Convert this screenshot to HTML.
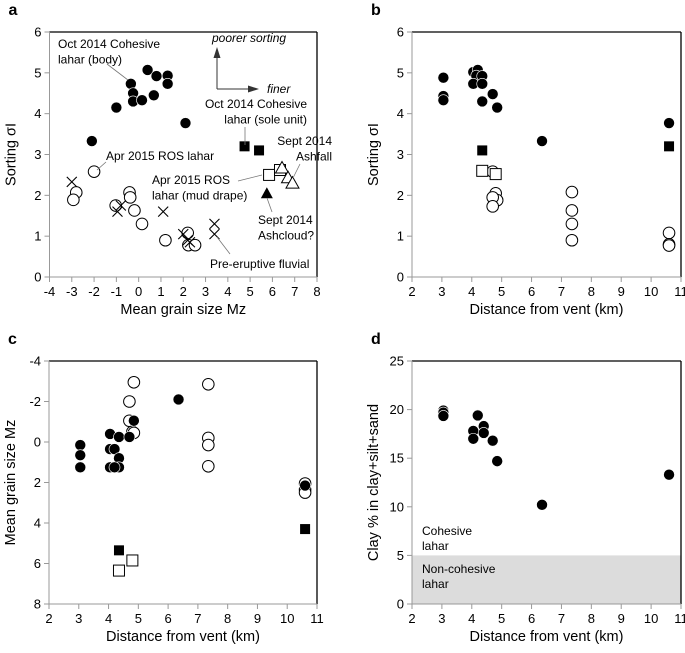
<!DOCTYPE html>
<html><head><meta charset="utf-8">
<style>
body{margin:0;background:#fff}
svg{display:block;font-family:"Liberation Sans",Arial,sans-serif}
</style></head>
<body>
<svg id="fig" width="685" height="653" viewBox="0 0 685 653" xmlns="http://www.w3.org/2000/svg">
<g id="layer"></g>
</svg>
<script>
// ---- Panel a data: mean grain size (x) vs sorting (y)
const aBodyX = [-2.1,-1.0,-0.35,-0.25,-0.25,0.15,0.4,0.8,0.68,1.3,1.3,2.1];
const aBodyY = [3.33,4.15,4.73,4.5,4.3,4.33,5.07,4.92,4.45,4.93,4.73,3.77];
const aSoleX = [4.75,5.4];
const aSoleY = [3.2,3.1];
const aCloudX = [5.75];
const aCloudY = [2.05];
const aDrapeX = [5.85,6.34];
const aDrapeY = [2.5,2.62];
const aFallX = [6.43,6.7,6.9];
const aFallY = [2.67,2.43,2.3];
const aRosX = [-2.0,-2.8,-2.93,-1.03,-0.41,-0.38,-0.19,0.15,1.2,2.2,2.23,2.53];
const aRosY = [2.58,2.07,1.89,1.75,2.07,1.95,1.63,1.3,0.9,1.08,0.78,0.78];
const aFluvX = [-3.0,-0.8,-0.95,1.1,2.0,2.2,2.3,3.4,3.4];
const aFluvY = [2.33,1.75,1.6,1.6,1.05,0.9,0.85,1.3,1.05];
// ---- Panel b: distance vs sorting
const bBodyX = [3.05,3.05,3.05,4.05,4.2,4.15,4.35,4.05,4.35,4.35,4.7,4.85,6.35,10.6];
const bBodyY = [4.88,4.43,4.33,5.02,5.07,4.93,4.92,4.73,4.73,4.3,4.48,4.15,3.33,3.77];
const bSoleX = [4.35,10.6];
const bSoleY = [3.1,3.2];
const bDrapeX = [4.35,4.8];
const bDrapeY = [2.6,2.52];
const bRosX = [4.7,4.8,4.85,4.7,4.7,7.35,7.35,7.35,7.35,10.6,10.6,10.6];
const bRosY = [2.58,2.05,1.88,1.95,1.73,2.08,1.63,1.3,0.9,1.08,0.8,0.77];
// ---- Panel c: distance vs mean grain size
const cBodyX = [3.05,3.05,3.05,4.05,4.05,4.2,4.35,4.35,4.35,4.05,4.2,4.7,4.85,6.35,10.6];
const cBodyY = [0.15,0.65,1.25,-0.4,0.35,0.35,-0.25,0.8,1.25,1.25,1.25,-0.25,-1.05,-2.1,2.15];
const cRosX = [4.85,4.7,4.7,4.8,4.85,7.35,7.35,7.35,7.35,10.6,10.6,10.6];
const cRosY = [-2.95,-2.0,-1.05,-0.5,-0.45,-2.85,-0.2,0.15,1.2,2.05,2.35,2.5];
const cSoleX = [4.35,10.6];
const cSoleY = [5.35,4.3];
const cDrapeX = [4.35,4.8];
const cDrapeY = [6.35,5.85];
// ---- Panel d: distance vs clay %
const dBodyX = [3.05,3.05,3.05,4.05,4.05,4.2,4.4,4.4,4.7,4.85,6.35,10.6];
const dBodyY = [19.9,19.7,19.35,17.8,17.0,19.4,18.3,17.6,16.8,14.7,10.2,13.3];
// ticks
const aXTicks = [-4,-3,-2,-1,0,1,2,3,4,5,6,7,8];
const yTicks6 = [0,1,2,3,4,5,6];
const distTicks = [2,3,4,5,6,7,8,9,10,11];
const cYTicks = [-4,-2,0,2,4,6,8];
const cYLabels = ["-4","-2","0","2","4","6","8"];
const dYTicks = [0,5,10,15,20,25];

const NS="http://www.w3.org/2000/svg";
const layer=document.getElementById('layer');
function mk(tag,attrs,parent){const e=document.createElementNS(NS,tag);for(const k in attrs)e.setAttribute(k,attrs[k]);(parent||layer).appendChild(e);return e;}
function txt(s,x,y,attrs,parent){const e=mk('text',Object.assign({x:x,y:y},attrs||{}),parent);e.textContent=s;return e;}

function panel(id,L,T,R,B,x0,x1,y0,y1){
  const g=mk('g',{});
  
  
  const sx=v=>L+(v-x0)/(x1-x0)*(R-L);
  const sy=v=>B-(v-y0)/(y1-y0)*(B-T);
  return {g,sx,sy,L,T,R,B};
}
function axes(p,xt,yt,ylabels,xtitle,ytitle,letter){
  const g=p.g;
  const ax=mk('g',{},g);
  
  
  mk('line',{x1:p.L,y1:p.T,x2:p.R,y2:p.T,stroke:'#000','stroke-width':1.3},ax);
  mk('line',{x1:p.R,y1:p.T,x2:p.R,y2:p.B,stroke:'#000','stroke-width':1.3},ax);
  mk('line',{x1:p.L,y1:p.T,x2:p.L,y2:p.B,stroke:'#999','stroke-width':1},ax);
  mk('line',{x1:p.L,y1:p.B,x2:p.R,y2:p.B,stroke:'#999','stroke-width':1},ax);
  xt.forEach(v=>{const x=p.sx(v);
    mk('line',{x1:x,y1:p.B,x2:x,y2:p.B+5,stroke:'#999'},ax);
    const t=txt(String(v),x,p.B+19,{'font-size':13,'text-anchor':'middle'},ax);
    });
  yt.forEach((v,i)=>{const y=p.sy(v);
    mk('line',{x1:p.L-5,y1:y,x2:p.L,y2:y,stroke:'#999'},ax);
    const t=txt(ylabels?ylabels[i]:String(v),p.L-8,y+4.5,{'font-size':13,'text-anchor':'end'},ax);
    });
  const xtl=txt(xtitle,(p.L+p.R)/2,p.B+37,{'font-size':14.5,'text-anchor':'middle'},g);
  
  const cx=p.L-34, cy=(p.T+p.B)/2;
  const ytl=txt(ytitle,cx,cy,{'font-size':14.5,'text-anchor':'middle',transform:`rotate(-90 ${cx} ${cy})`},g);
  
  const lt=txt(letter,p.L-41,p.T-17,{'font-size':16,'font-weight':'bold'},g);
  
}
function series(p,xs,ys,kind,name){
  const g=mk('g',{},p.g);
  
  
  xs.forEach((xv,i)=>{const x=p.sx(xv),y=p.sy(ys[i]);let e;
    if(kind==='fc')e=mk('circle',{cx:x,cy:y,r:5.5,fill:'#000',stroke:'#fff','stroke-width':0.6},g);
    else if(kind==='oc')e=mk('circle',{cx:x,cy:y,r:5.8,fill:'#fff',stroke:'#000','stroke-width':1},g);
    else if(kind==='fs')e=mk('rect',{x:x-5,y:y-5,width:10,height:10,fill:'#000'},g);
    else if(kind==='os')e=mk('rect',{x:x-5.5,y:y-5.5,width:11,height:11,fill:'#fff',stroke:'#000','stroke-width':1},g);
    else if(kind==='ft')e=mk('polygon',{points:`${x},${y-6} ${x-6},${y+5} ${x+6},${y+5}`,fill:'#000'},g);
    else if(kind==='ot')e=mk('polygon',{points:`${x},${y-6.5} ${x-6.5},${y+5} ${x+6.5},${y+5}`,fill:'#fff',stroke:'#000','stroke-width':1},g);
    else if(kind==='x')e=mk('path',{d:`M${x-5},${y-5}L${x+5},${y+5}M${x-5},${y+5}L${x+5},${y-5}`,stroke:'#000','stroke-width':1.1,fill:'none'},g);
    
    
  });
}

// Panel a
const pa=panel('panel-a',49.5,32,317,277,-4,8,0,6);
axes(pa,aXTicks,yTicks6,null,'Mean grain size Mz','Sorting σI','a');
series(pa,aRosX,aRosY,'oc','series-apr2015-ros-lahar');
series(pa,aFluvX,aFluvY,'x','series-pre-eruptive-fluvial');
series(pa,aBodyX,aBodyY,'fc','series-oct2014-body');
series(pa,aSoleX,aSoleY,'fs','series-oct2014-sole');
series(pa,aCloudX,aCloudY,'ft','series-sept2014-ashcloud');
series(pa,aDrapeX,aDrapeY,'os','series-apr2015-mud-drape');
series(pa,aFallX,aFallY,'ot','series-sept2014-ashfall');
const ann=mk('g',{'font-size':12},pa.g);


function lbl(lines,x,y,anchor){lines.forEach((s,i)=>txt(s,x,y+i*15.5,{'text-anchor':anchor||'start'},ann));}
function ln(x1,y1,x2,y2){mk('line',{x1,y1,x2,y2,stroke:'#777','stroke-width':0.8},ann);}
lbl(['Oct 2014 Cohesive','lahar (body)'],58,48);ln(107,64,128,80);
lbl(['Oct 2014 Cohesive','lahar (sole unit)'],307,108,'end');ln(245,127,245,145);
lbl(['Sept 2014','Ashfall'],332,145,'end');ln(300,164,293,178);
lbl(['Apr 2015 ROS lahar'],106,160);ln(106,162,97,170);
lbl(['Apr 2015 ROS','lahar (mud drape)'],152,184);ln(238,181,262,175);
lbl(['Sept 2014','Ashcloud?'],258,224);
ln(267,198,272,212);
lbl(['Pre-eruptive fluvial'],210,268);ln(217,237,230,254);
txt('poorer sorting',212,42,{'font-style':'italic'},ann);
txt('finer',267,93,{'font-style':'italic'},ann);
mk('line',{x1:217,y1:89,x2:217,y2:56,stroke:'#333','stroke-width':1},ann);
mk('polygon',{points:'217,47 213.5,58 220.5,58',fill:'#333'},ann);
mk('line',{x1:217,y1:89,x2:250,y2:89,stroke:'#333','stroke-width':1},ann);
mk('polygon',{points:'259,89 248,85.5 248,92.5',fill:'#333'},ann);

// Panel b
const pb=panel('panel-b',412,32,681,277,2,11,0,6);
axes(pb,distTicks,yTicks6,null,'Distance from vent (km)','Sorting σI','b');
series(pb,bRosX,bRosY,'oc','series-ros-lahar');
series(pb,bDrapeX,bDrapeY,'os','series-mud-drape');
series(pb,bBodyX,bBodyY,'fc','series-body');
series(pb,bSoleX,bSoleY,'fs','series-sole');

// Panel c
const pc=panel('panel-c',49,361,317,604,2,11,8,-4);
axes(pc,distTicks,cYTicks,cYLabels,'Distance from vent (km)','Mean grain size Mz','c');
series(pc,cRosX,cRosY,'oc','series-ros-lahar');
series(pc,cBodyX,cBodyY,'fc','series-body');
series(pc,cSoleX,cSoleY,'fs','series-sole');
series(pc,cDrapeX,cDrapeY,'os','series-mud-drape');

// Panel d
const pd=panel('panel-d',412,361,681,604,2,11,0,25);
const band=mk('rect',{x:pd.L,y:pd.sy(5),width:pd.R-pd.L,height:pd.B-pd.sy(5),fill:'#dcdcdc'},pd.g);


axes(pd,distTicks,dYTicks,null,'Distance from vent (km)','Clay % in clay+silt+sand','d');
series(pd,dBodyX,dBodyY,'fc','series-body');
const dl=mk('g',{'font-size':12},pd.g);


txt('Cohesive',422,535,{},dl);txt('lahar',422,550,{},dl);
txt('Non-cohesive',422,573,{},dl);txt('lahar',422,588,{},dl);
</script>
</body></html>
